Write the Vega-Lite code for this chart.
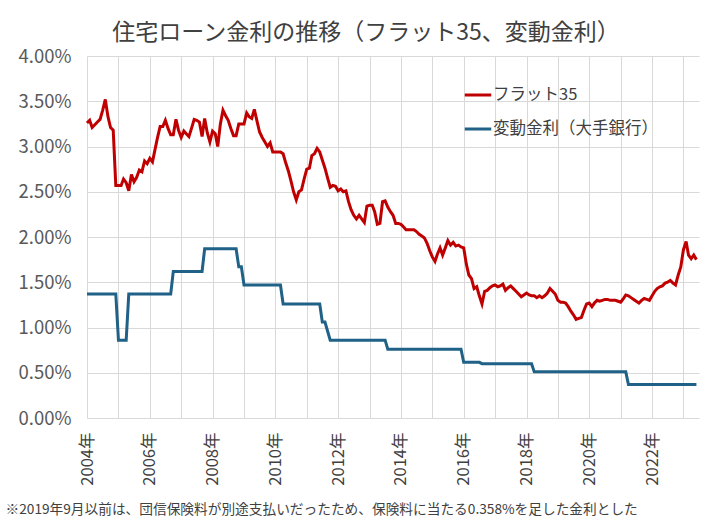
{
  "$schema": "https://vega.github.io/schema/vega-lite/v6.json",
  "autosize": {"type": "none"},
  "padding": {"left": 87, "top": 56, "right": 29, "bottom": 106},
  "width": 612,
  "height": 362,
  "background": "white",
  "config": {"font": "Noto Sans CJK JP", "view": {"stroke": null}},
  "title": {"text": "住宅ローン金利の推移（フラット35、変動金利）", "fontSize": 23, "fontWeight": "normal", "color": "#404040", "anchor": "middle", "dx": -27, "offset": 2},
  "data": {"values": [
    {"d":"2004-01","s":"フラット35","v":3.26},{"d":"2004-02","s":"フラット35","v":3.29},{"d":"2004-03","s":"フラット35","v":3.21},{"d":"2004-04","s":"フラット35","v":3.24},{"d":"2004-05","s":"フラット35","v":3.27},{"d":"2004-06","s":"フラット35","v":3.30},{"d":"2004-07","s":"フラット35","v":3.40},{"d":"2004-08","s":"フラット35","v":3.52},{"d":"2004-09","s":"フラット35","v":3.33},{"d":"2004-10","s":"フラット35","v":3.21},{"d":"2004-11","s":"フラット35","v":3.18},{"d":"2004-12","s":"フラット35","v":2.57},
    {"d":"2005-01","s":"フラット35","v":2.57},{"d":"2005-02","s":"フラット35","v":2.57},{"d":"2005-03","s":"フラット35","v":2.64},{"d":"2005-04","s":"フラット35","v":2.60},{"d":"2005-05","s":"フラット35","v":2.51},{"d":"2005-06","s":"フラット35","v":2.69},{"d":"2005-07","s":"フラット35","v":2.61},{"d":"2005-08","s":"フラット35","v":2.66},{"d":"2005-09","s":"フラット35","v":2.74},{"d":"2005-10","s":"フラット35","v":2.72},{"d":"2005-11","s":"フラット35","v":2.84},{"d":"2005-12","s":"フラット35","v":2.81},
    {"d":"2006-01","s":"フラット35","v":2.87},{"d":"2006-02","s":"フラット35","v":2.83},{"d":"2006-03","s":"フラット35","v":2.96},{"d":"2006-04","s":"フラット35","v":3.10},{"d":"2006-05","s":"フラット35","v":3.22},{"d":"2006-06","s":"フラット35","v":3.22},{"d":"2006-07","s":"フラット35","v":3.29},{"d":"2006-08","s":"フラット35","v":3.20},{"d":"2006-09","s":"フラット35","v":3.13},{"d":"2006-10","s":"フラット35","v":3.13},{"d":"2006-11","s":"フラット35","v":3.30},{"d":"2006-12","s":"フラット35","v":3.18},
    {"d":"2007-01","s":"フラット35","v":3.10},{"d":"2007-02","s":"フラット35","v":3.17},{"d":"2007-03","s":"フラット35","v":3.14},{"d":"2007-04","s":"フラット35","v":3.11},{"d":"2007-05","s":"フラット35","v":3.20},{"d":"2007-06","s":"フラット35","v":3.30},{"d":"2007-07","s":"フラット35","v":3.29},{"d":"2007-08","s":"フラット35","v":3.27},{"d":"2007-09","s":"フラット35","v":3.11},{"d":"2007-10","s":"フラット35","v":3.31},{"d":"2007-11","s":"フラット35","v":3.15},{"d":"2007-12","s":"フラット35","v":3.05},
    {"d":"2008-01","s":"フラット35","v":3.17},{"d":"2008-02","s":"フラット35","v":3.14},{"d":"2008-03","s":"フラット35","v":3.00},{"d":"2008-04","s":"フラット35","v":3.25},{"d":"2008-05","s":"フラット35","v":3.40},{"d":"2008-06","s":"フラット35","v":3.34},{"d":"2008-07","s":"フラット35","v":3.29},{"d":"2008-08","s":"フラット35","v":3.20},{"d":"2008-09","s":"フラット35","v":3.12},{"d":"2008-10","s":"フラット35","v":3.12},{"d":"2008-11","s":"フラット35","v":3.25},{"d":"2008-12","s":"フラット35","v":3.25},
    {"d":"2009-01","s":"フラット35","v":3.25},{"d":"2009-02","s":"フラット35","v":3.37},{"d":"2009-03","s":"フラット35","v":3.33},{"d":"2009-04","s":"フラット35","v":3.31},{"d":"2009-05","s":"フラット35","v":3.41},{"d":"2009-06","s":"フラット35","v":3.28},{"d":"2009-07","s":"フラット35","v":3.16},{"d":"2009-08","s":"フラット35","v":3.10},{"d":"2009-09","s":"フラット35","v":3.05},{"d":"2009-10","s":"フラット35","v":3.00},{"d":"2009-11","s":"フラット35","v":3.04},{"d":"2009-12","s":"フラット35","v":2.94},
    {"d":"2010-01","s":"フラット35","v":2.94},{"d":"2010-02","s":"フラット35","v":2.94},{"d":"2010-03","s":"フラット35","v":2.94},{"d":"2010-04","s":"フラット35","v":2.92},{"d":"2010-05","s":"フラット35","v":2.82},{"d":"2010-06","s":"フラット35","v":2.73},{"d":"2010-07","s":"フラット35","v":2.62},{"d":"2010-08","s":"フラット35","v":2.50},{"d":"2010-09","s":"フラット35","v":2.41},{"d":"2010-10","s":"フラット35","v":2.50},{"d":"2010-11","s":"フラット35","v":2.52},{"d":"2010-12","s":"フラット35","v":2.64},
    {"d":"2011-01","s":"フラット35","v":2.75},{"d":"2011-02","s":"フラット35","v":2.76},{"d":"2011-03","s":"フラット35","v":2.90},{"d":"2011-04","s":"フラット35","v":2.92},{"d":"2011-05","s":"フラット35","v":2.98},{"d":"2011-06","s":"フラット35","v":2.94},{"d":"2011-07","s":"フラット35","v":2.85},{"d":"2011-08","s":"フラット35","v":2.76},{"d":"2011-09","s":"フラット35","v":2.65},{"d":"2011-10","s":"フラット35","v":2.55},{"d":"2011-11","s":"フラット35","v":2.57},{"d":"2011-12","s":"フラット35","v":2.56},
    {"d":"2012-01","s":"フラット35","v":2.51},{"d":"2012-02","s":"フラット35","v":2.53},{"d":"2012-03","s":"フラット35","v":2.50},{"d":"2012-04","s":"フラット35","v":2.51},{"d":"2012-05","s":"フラット35","v":2.39},{"d":"2012-06","s":"フラット35","v":2.30},{"d":"2012-07","s":"フラット35","v":2.24},{"d":"2012-08","s":"フラット35","v":2.20},{"d":"2012-09","s":"フラット35","v":2.24},{"d":"2012-10","s":"フラット35","v":2.20},{"d":"2012-11","s":"フラット35","v":2.16},{"d":"2012-12","s":"フラット35","v":2.34},
    {"d":"2013-01","s":"フラット35","v":2.35},{"d":"2013-02","s":"フラット35","v":2.35},{"d":"2013-03","s":"フラット35","v":2.28},{"d":"2013-04","s":"フラット35","v":2.14},{"d":"2013-05","s":"フラット35","v":2.15},{"d":"2013-06","s":"フラット35","v":2.39},{"d":"2013-07","s":"フラット35","v":2.40},{"d":"2013-08","s":"フラット35","v":2.33},{"d":"2013-09","s":"フラット35","v":2.28},{"d":"2013-10","s":"フラット35","v":2.24},{"d":"2013-11","s":"フラット35","v":2.15},{"d":"2013-12","s":"フラット35","v":2.15},
    {"d":"2014-01","s":"フラット35","v":2.14},{"d":"2014-02","s":"フラット35","v":2.11},{"d":"2014-03","s":"フラット35","v":2.08},{"d":"2014-04","s":"フラット35","v":2.08},{"d":"2014-05","s":"フラット35","v":2.08},{"d":"2014-06","s":"フラット35","v":2.08},{"d":"2014-07","s":"フラット35","v":2.06},{"d":"2014-08","s":"フラット35","v":2.03},{"d":"2014-09","s":"フラット35","v":2.01},{"d":"2014-10","s":"フラット35","v":1.99},{"d":"2014-11","s":"フラット35","v":1.93},{"d":"2014-12","s":"フラット35","v":1.85},
    {"d":"2015-01","s":"フラット35","v":1.78},{"d":"2015-02","s":"フラット35","v":1.73},{"d":"2015-03","s":"フラット35","v":1.81},{"d":"2015-04","s":"フラット35","v":1.88},{"d":"2015-05","s":"フラット35","v":1.80},{"d":"2015-06","s":"フラット35","v":1.88},{"d":"2015-07","s":"フラット35","v":1.96},{"d":"2015-08","s":"フラット35","v":1.91},{"d":"2015-09","s":"フラット35","v":1.94},{"d":"2015-10","s":"フラット35","v":1.90},{"d":"2015-11","s":"フラット35","v":1.91},{"d":"2015-12","s":"フラット35","v":1.89},
    {"d":"2016-01","s":"フラット35","v":1.88},{"d":"2016-02","s":"フラット35","v":1.70},{"d":"2016-03","s":"フラット35","v":1.58},{"d":"2016-04","s":"フラット35","v":1.54},{"d":"2016-05","s":"フラット35","v":1.43},{"d":"2016-06","s":"フラット35","v":1.45},{"d":"2016-07","s":"フラット35","v":1.35},{"d":"2016-08","s":"フラット35","v":1.26},{"d":"2016-09","s":"フラット35","v":1.40},{"d":"2016-10","s":"フラット35","v":1.41},{"d":"2016-11","s":"フラット35","v":1.44},{"d":"2016-12","s":"フラット35","v":1.46},
    {"d":"2017-01","s":"フラット35","v":1.47},{"d":"2017-02","s":"フラット35","v":1.45},{"d":"2017-03","s":"フラット35","v":1.46},{"d":"2017-04","s":"フラット35","v":1.48},{"d":"2017-05","s":"フラット35","v":1.41},{"d":"2017-06","s":"フラット35","v":1.44},{"d":"2017-07","s":"フラット35","v":1.46},{"d":"2017-08","s":"フラット35","v":1.43},{"d":"2017-09","s":"フラット35","v":1.40},{"d":"2017-10","s":"フラット35","v":1.37},{"d":"2017-11","s":"フラット35","v":1.34},{"d":"2017-12","s":"フラット35","v":1.36},
    {"d":"2018-01","s":"フラット35","v":1.38},{"d":"2018-02","s":"フラット35","v":1.36},{"d":"2018-03","s":"フラット35","v":1.35},{"d":"2018-04","s":"フラット35","v":1.35},{"d":"2018-05","s":"フラット35","v":1.33},{"d":"2018-06","s":"フラット35","v":1.35},{"d":"2018-07","s":"フラット35","v":1.33},{"d":"2018-08","s":"フラット35","v":1.35},{"d":"2018-09","s":"フラット35","v":1.38},{"d":"2018-10","s":"フラット35","v":1.43},{"d":"2018-11","s":"フラット35","v":1.40},{"d":"2018-12","s":"フラット35","v":1.37},
    {"d":"2019-01","s":"フラット35","v":1.30},{"d":"2019-02","s":"フラット35","v":1.28},{"d":"2019-03","s":"フラット35","v":1.28},{"d":"2019-04","s":"フラット35","v":1.27},{"d":"2019-05","s":"フラット35","v":1.23},{"d":"2019-06","s":"フラット35","v":1.18},{"d":"2019-07","s":"フラット35","v":1.14},{"d":"2019-08","s":"フラット35","v":1.09},{"d":"2019-09","s":"フラット35","v":1.10},{"d":"2019-10","s":"フラット35","v":1.11},{"d":"2019-11","s":"フラット35","v":1.19},{"d":"2019-12","s":"フラット35","v":1.26},
    {"d":"2020-01","s":"フラット35","v":1.27},{"d":"2020-02","s":"フラット35","v":1.23},{"d":"2020-03","s":"フラット35","v":1.27},{"d":"2020-04","s":"フラット35","v":1.30},{"d":"2020-05","s":"フラット35","v":1.29},{"d":"2020-06","s":"フラット35","v":1.30},{"d":"2020-07","s":"フラット35","v":1.31},{"d":"2020-08","s":"フラット35","v":1.31},{"d":"2020-09","s":"フラット35","v":1.30},{"d":"2020-10","s":"フラット35","v":1.30},{"d":"2020-11","s":"フラット35","v":1.30},{"d":"2020-12","s":"フラット35","v":1.29},
    {"d":"2021-01","s":"フラット35","v":1.28},{"d":"2021-02","s":"フラット35","v":1.32},{"d":"2021-03","s":"フラット35","v":1.36},{"d":"2021-04","s":"フラット35","v":1.35},{"d":"2021-05","s":"フラット35","v":1.33},{"d":"2021-06","s":"フラット35","v":1.31},{"d":"2021-07","s":"フラット35","v":1.29},{"d":"2021-08","s":"フラット35","v":1.27},{"d":"2021-09","s":"フラット35","v":1.30},{"d":"2021-10","s":"フラット35","v":1.32},{"d":"2021-11","s":"フラット35","v":1.31},{"d":"2021-12","s":"フラット35","v":1.30},
    {"d":"2022-01","s":"フラット35","v":1.35},{"d":"2022-02","s":"フラット35","v":1.40},{"d":"2022-03","s":"フラット35","v":1.43},{"d":"2022-04","s":"フラット35","v":1.45},{"d":"2022-05","s":"フラット35","v":1.46},{"d":"2022-06","s":"フラット35","v":1.49},{"d":"2022-07","s":"フラット35","v":1.50},{"d":"2022-08","s":"フラット35","v":1.52},{"d":"2022-09","s":"フラット35","v":1.49},{"d":"2022-10","s":"フラット35","v":1.47},{"d":"2022-11","s":"フラット35","v":1.58},{"d":"2022-12","s":"フラット35","v":1.67},
    {"d":"2023-01","s":"フラット35","v":1.86},{"d":"2023-02","s":"フラット35","v":1.95},{"d":"2023-03","s":"フラット35","v":1.80},{"d":"2023-04","s":"フラット35","v":1.76},{"d":"2023-05","s":"フラット35","v":1.80},{"d":"2023-06","s":"フラット35","v":1.75},
    {"d":"2004-01","s":"変動金利（大手銀行）","v":1.37},{"d":"2004-12","s":"変動金利（大手銀行）","v":1.37},{"d":"2005-01","s":"変動金利（大手銀行）","v":0.86},{"d":"2005-04","s":"変動金利（大手銀行）","v":0.86},{"d":"2005-05","s":"変動金利（大手銀行）","v":1.37},{"d":"2006-09","s":"変動金利（大手銀行）","v":1.37},{"d":"2006-10","s":"変動金利（大手銀行）","v":1.62},{"d":"2007-09","s":"変動金利（大手銀行）","v":1.62},{"d":"2007-10","s":"変動金利（大手銀行）","v":1.87},{"d":"2008-10","s":"変動金利（大手銀行）","v":1.87},{"d":"2008-11","s":"変動金利（大手銀行）","v":1.67},{"d":"2008-12","s":"変動金利（大手銀行）","v":1.67},{"d":"2009-01","s":"変動金利（大手銀行）","v":1.47},{"d":"2010-03","s":"変動金利（大手銀行）","v":1.47},{"d":"2010-04","s":"変動金利（大手銀行）","v":1.26},{"d":"2011-06","s":"変動金利（大手銀行）","v":1.26},{"d":"2011-07","s":"変動金利（大手銀行）","v":1.06},{"d":"2011-08","s":"変動金利（大手銀行）","v":1.06},{"d":"2011-10","s":"変動金利（大手銀行）","v":0.86},{"d":"2013-07","s":"変動金利（大手銀行）","v":0.86},{"d":"2013-08","s":"変動金利（大手銀行）","v":0.76},{"d":"2015-12","s":"変動金利（大手銀行）","v":0.76},{"d":"2016-01","s":"変動金利（大手銀行）","v":0.615},{"d":"2016-07","s":"変動金利（大手銀行）","v":0.615},{"d":"2016-08","s":"変動金利（大手銀行）","v":0.60},{"d":"2018-03","s":"変動金利（大手銀行）","v":0.60},{"d":"2018-04","s":"変動金利（大手銀行）","v":0.51},{"d":"2021-03","s":"変動金利（大手銀行）","v":0.51},{"d":"2021-04","s":"変動金利（大手銀行）","v":0.37},{"d":"2023-06","s":"変動金利（大手銀行）","v":0.37}
  ]},
  "mark": {"type": "line", "strokeWidth": 3, "interpolate": "linear"},
  "encoding": {
    "x": {"field": "d", "type": "temporal",
      "scale": {"type": "utc", "domain": [{"year": 2004, "month": 1, "date": 1, "utc": true}, {"year": 2023, "month": 7, "date": 1, "utc": true}]},
      "axis": {"tickCount": {"interval": "year", "step": 1}, "labelExpr": "utcyear(datum.value) % 2 === 0 ? utcyear(datum.value) + '年' : ''", "labelAngle": 270, "labelFontSize": 16.5, "labelColor": "#404040", "labelPadding": 14, "labelOverlap": false, "labelBound": false, "labelFlush": false, "ticks": false, "domain": false, "grid": true, "gridColor": "#d9d9d9", "gridWidth": 1,
        "title": "※2019年9月以前は、団信保険料が別途支払いだったため、保険料に当たる0.358%を足した金利とした", "titleAnchor": "start", "titleAlign": "left", "titleX": -82, "titleY": 95, "titleBaseline": "alphabetic", "titleFontSize": 13.7, "titleFontWeight": "normal", "titleColor": "#404040"}},
    "y": {"field": "v", "type": "quantitative",
      "scale": {"domain": [0, 4], "nice": false, "zero": true},
      "axis": {"values": [0, 0.5, 1, 1.5, 2, 2.5, 3, 3.5, 4], "labelExpr": "format(datum.value, '.2f') + '%'", "labelFontSize": 18.5, "labelColor": "#595959", "labelPadding": 16, "ticks": false, "domain": false, "grid": true, "gridColor": "#d9d9d9", "gridWidth": 1, "title": null}},
    "color": {"field": "s", "type": "nominal",
      "scale": {"domain": ["フラット35", "変動金利（大手銀行）"], "range": ["#c00000", "#1f6187"]},
      "legend": {"title": null, "orient": "none", "legendX": 376, "legendY": 24, "symbolType": "stroke", "symbolStrokeWidth": 3, "symbolSize": 700, "labelFontSize": 16.5, "labelColor": "#404040", "labelLimit": 300, "rowPadding": 10, "labelOffset": 0}}
  }
}
